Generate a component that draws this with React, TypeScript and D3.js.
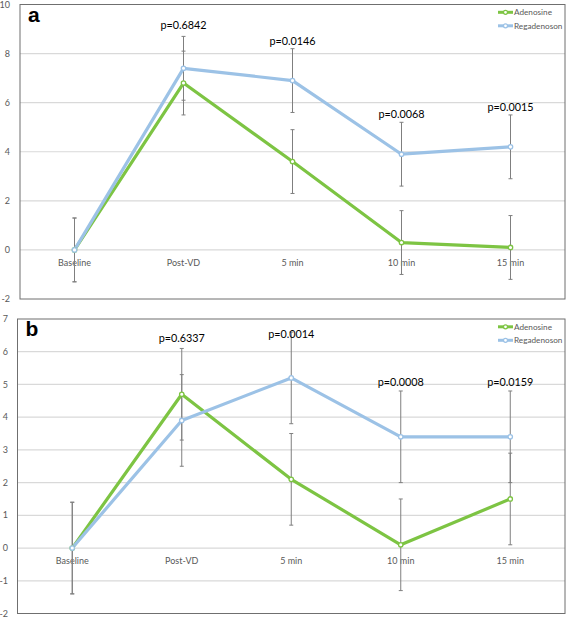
import React from "react";
import * as d3 from "d3";

const categories = ["Baseline", "Post-VD", "5 min", "10 min", "15 min"];
const seriesNames = ["Adenosine", "Regadenoson"];

// Panel a
const aAdenosine = [0, 6.8, 3.6, 0.3, 0.1];
const aRegadenoson = [0, 7.4, 6.9, 3.9, 4.2];
const aAdenosineErr = [1.3, 1.3, 1.3, 1.3, 1.3];
const aRegadenosonErr = [1.3, 1.3, 1.3, 1.3, 1.3];
const aPValues = ["", "p=0.6842", "p=0.0146", "p=0.0068", "p=0.0015"];
const aPLabelAt = [0, 9.16, 8.5, 5.54, 5.82];
const aTicks = [-2, 0, 2, 4, 6, 8, 10];

// Panel b
const bAdenosine = [0, 4.7, 2.1, 0.1, 1.5];
const bRegadenoson = [0, 3.9, 5.2, 3.4, 3.4];
const bAdenosineErr = [1.4, 1.4, 1.4, 1.4, 1.4];
const bRegadenosonErr = [1.4, 1.4, 1.4, 1.4, 1.4];
const bPValues = ["", "p=0.6337", "p=0.0014", "p=0.0008", "p=0.0159"];
const bPLabelAt = [0, 6.41, 6.55, 5.08, 5.08];
const bTicks = [-2, -1, 0, 1, 2, 3, 4, 5, 6, 7];

const COLORS = ["#7dc443", "#9cc2e6"];
const FONT = "Lato, 'Liberation Sans', sans-serif";

type PanelProps = {
  label: string;
  left: number;
  right: number;
  top: number;
  bottom: number;
  domain: [number, number];
  ticks: number[];
  tickRight: number;
  series: number[][];
  errors: number[][];
  pValues: string[];
  pLabelAt: number[];
};

function Panel(p: PanelProps) {
  const x = d3.scaleBand<string>().domain(categories).range([p.left, p.right]);
  const y = d3.scaleLinear().domain(p.domain).range([p.bottom, p.top]);
  const cx = (c: string) => (x(c) as number) + x.bandwidth() / 2;
  const line = d3
    .line<number>()
    .x((_, i) => cx(categories[i]))
    .y((d) => y(d));
  const gridTicks = p.ticks.filter((t) => t > p.domain[0] && t < p.domain[1]);
  return (
    <g>
      {gridTicks.map((t) => (
        <line key={"g" + t} x1={p.left} x2={p.right} y1={y(t)} y2={y(t)} stroke="#d9d9d9" strokeWidth={1.2} />
      ))}
      <rect x={p.left} y={p.top} width={p.right - p.left} height={p.bottom - p.top} fill="none" stroke="#6f6f6f" strokeWidth={1} />
      {p.ticks.map((t) => (
        <text key={"t" + t} x={p.tickRight} y={y(t)} dy="0.35em" textAnchor="end" fontSize={9} fill="#595959" fontFamily={FONT}>
          {t}
        </text>
      ))}
      {categories.map((c) => (
        <text key={"c" + c} x={cx(c)} y={y(0) + 13} dy="0.35em" textAnchor="middle" fontSize={9} fill="#595959" fontFamily={FONT}>
          {c}
        </text>
      ))}
      <text x={p.left + 8} y={p.top + 17} fontSize={21} fontWeight="bold" fill="#000" fontFamily="'Liberation Sans', Arial, sans-serif">
        {p.label}
      </text>
      {p.series.map((s, si) =>
        s.map((v, i) => {
          const e = p.errors[si][i];
          const xc = cx(categories[i]);
          return (
            <g key={"e" + si + "-" + i} stroke="#7f7f7f" strokeWidth={1}>
              <line x1={xc} x2={xc} y1={y(v - e)} y2={y(v + e)} />
              <line x1={xc - 2} x2={xc + 2} y1={y(v - e)} y2={y(v - e)} />
              <line x1={xc - 2} x2={xc + 2} y1={y(v + e)} y2={y(v + e)} />
            </g>
          );
        })
      )}
      {p.series.map((s, si) => (
        <path key={"l" + si} d={line(s) as string} fill="none" stroke={COLORS[si]} strokeWidth={3.2} strokeLinejoin="round" />
      ))}
      {p.series.map((s, si) =>
        s.map((v, i) => (
          <circle key={"m" + si + "-" + i} cx={cx(categories[i])} cy={y(v)} r={2.2} fill="#fff" stroke={COLORS[si]} strokeWidth={1.3} />
        ))
      )}
      {p.pValues.map((t, i) =>
        t ? (
          <text key={"p" + i} x={cx(categories[i])} y={y(p.pLabelAt[i])} dy="0.35em" textAnchor="middle" fontSize={10.8} fill="#000" fontFamily={FONT}>
            {t}
          </text>
        ) : null
      )}
      {seriesNames.map((n, si) => (
        <g key={"lg" + n}>
          <line x1={498} x2={513} y1={p.top + 7.8 + si * 13.5} y2={p.top + 7.8 + si * 13.5} stroke={COLORS[si]} strokeWidth={3} />
          <circle cx={505.5} cy={p.top + 7.8 + si * 13.5} r={2} fill="#fff" stroke={COLORS[si]} strokeWidth={1.2} />
          <text x={514} y={p.top + 7.8 + si * 13.5} dy="0.35em" fontSize={8.2} fill="#595959" fontFamily={FONT}>
            {n}
          </text>
        </g>
      ))}
    </g>
  );
}

export default function App() {
  return (
    <div style={{ position: "absolute", left: 0, top: 0, width: 567, height: 618, background: "#fff" }}>
      <svg width={567} height={618} style={{ display: "block" }}>
        <rect width={567} height={618} fill="#fff" />
        <Panel
          label="a"
          left={20}
          right={565}
          top={4.5}
          bottom={299}
          domain={[-2, 10]}
          ticks={aTicks}
          tickRight={10}
          series={[aAdenosine, aRegadenoson]}
          errors={[aAdenosineErr, aRegadenosonErr]}
          pValues={aPValues}
          pLabelAt={aPLabelAt}
        />
        <Panel
          label="b"
          left={17.5}
          right={565}
          top={319}
          bottom={613.5}
          domain={[-2, 7]}
          ticks={bTicks}
          tickRight={8}
          series={[bAdenosine, bRegadenoson]}
          errors={[bAdenosineErr, bRegadenosonErr]}
          pValues={bPValues}
          pLabelAt={bPLabelAt}
        />
      </svg>
    </div>
  );
}
